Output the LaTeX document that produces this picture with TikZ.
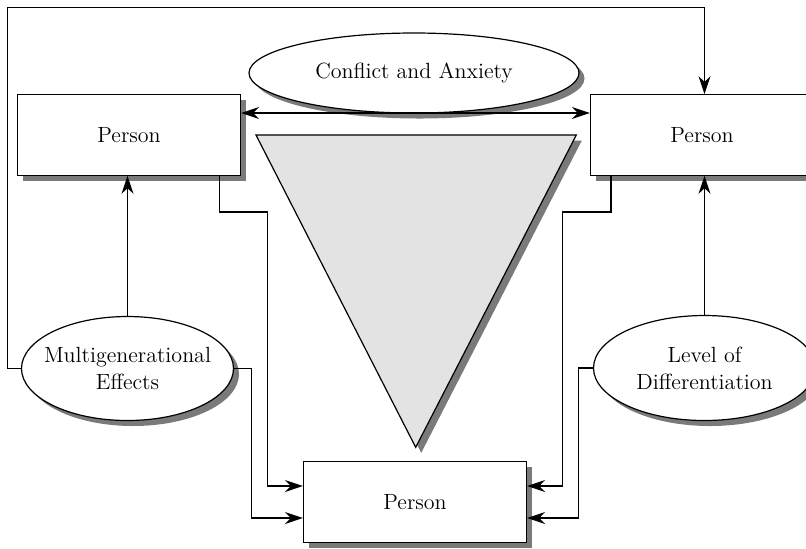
\documentclass[tikz,border=0pt]{standalone}
\usetikzlibrary{shapes.geometric,shadows,arrows.meta}

\begin{document}
\begin{tikzpicture}[x=0.5pt,y=-0.5pt,line width=0.6pt,
  font=\fontsize{11}{13.5}\selectfont,
  >={Stealth[length=9pt,width=6pt]},
  dropgray/.style={drop shadow={shadow xshift=2.75pt,shadow yshift=-2.75pt,fill=black!52,opacity=1}},
  person/.style={draw,fill=white,dropgray,minimum width=111.5pt,minimum height=40.3pt,inner sep=0pt},
  bubble/.style={draw,fill=white,dropgray,ellipse,inner xsep=-8pt,inner ysep=0pt,align=center}]
\clip (0,0) rectangle (806,548);
% grey triangle
\filldraw[fill=black!11,dropgray](256,135)--(576.3,135)--(415.7,447.3)--cycle;
% the three persons
\node[person] (lp) at (129,135) {Person};
\node[person] (rp) at (702,135) {Person};
\node[person] (bp) at (415,502) {Person};
% the three ellipses
\node[bubble,minimum width=165pt,minimum height=40pt] (ca) at (414,73) {Conflict and Anxiety};
\node[bubble,minimum width=106pt,minimum height=52pt] (me) at (127.5,368.5) {Multigenerational\\Effects};
\node[bubble,minimum width=111pt,minimum height=52.5pt] (ld) at (704.5,368) {Level of\\Differentiation};
\coordinate (corner) at (7.5,7.5);
% connectors
\draw[->](me.west)-|(corner)-|(ld.north |- rp.north);
\draw[<->]([yshift=11pt]lp.east)--([yshift=11pt]rp.west);
\draw[->](me.north)--(me.north |- lp.south);
\draw[->](ld.north)--(ld.north |- rp.south);
\draw[->]([xshift=-11pt]lp.south east)--++(0,36)--++(48,0)|-([yshift=8pt]bp.west);
\draw[->](me.east)--++(17,0)|-([yshift=-8pt]bp.west);
\draw[->]([xshift=10.5pt]rp.south west)--++(0,36)--++(-48.5,0)|-([yshift=8pt]bp.east);
\draw[->](ld.west)--++(-14.5,0)|-([yshift=-8pt]bp.east);
\end{tikzpicture}
\end{document}
